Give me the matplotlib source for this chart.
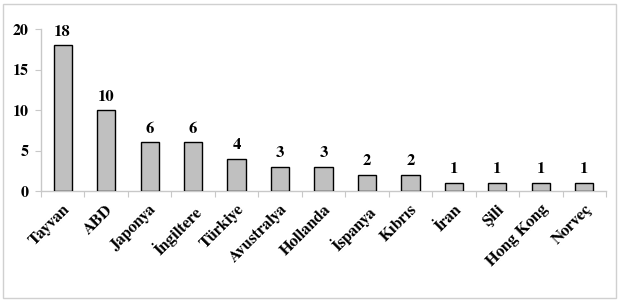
import matplotlib
matplotlib.use("Agg")
import matplotlib.pyplot as plt
from matplotlib.patches import Rectangle
import numpy as np

categories = ["Tayvan", "ABD", "Japonya", "İngiltere", "Türkiye", "Avustralya",
              "Hollanda", "İspanya", "Kıbrıs", "İran", "Şili", "Hong Kong", "Norveç"]
values = [18, 10, 6, 6, 4, 3, 3, 2, 2, 1, 1, 1, 1]
yticks = [0, 5, 10, 15, 20]

plt.rcParams['font.family'] = ['FreeSerif', 'Liberation Serif', 'DejaVu Serif']
plt.rcParams['font.weight'] = 'bold'

fs = 12

fig = plt.figure(figsize=(6.19, 3.02), dpi=100)
ax = fig.add_axes([0.0662, 0.3675, 0.9128, 0.5364])

x = np.arange(len(categories))
ax.bar(x, values, width=0.42, color='#c0c0c0', edgecolor='black', linewidth=1.0, zorder=3)
for xi, v in zip(x, values):
    ax.text(xi, v + 0.8, str(v), ha='center', va='bottom', fontsize=fs, fontweight='bold')

ax.set_xlim(-0.5, len(categories) - 0.5)
ax.set_ylim(0, 20)
ax.set_yticks(yticks)
ax.set_yticklabels([str(t) for t in yticks], fontsize=11.5, fontweight='bold')
ax.set_xticks(x)
ax.set_xticklabels(categories, rotation=45, ha='right', rotation_mode='anchor',
                   fontsize=fs, fontweight='bold')
ax.tick_params(axis='x', which='major', length=0, pad=8)
ax.set_xticks(np.arange(-0.5, len(categories), 1.0), minor=True)
ax.tick_params(axis='x', which='minor', length=4, color='#c8c8c8', width=0.8)
ax.tick_params(axis='y', length=4, color='#c8c8c8', width=0.8, pad=5)

for s in ['top', 'right']:
    ax.spines[s].set_visible(False)
for s in ['left', 'bottom']:
    ax.spines[s].set_color('#c8c8c8')
    ax.spines[s].set_linewidth(1.0)

fig.patches.append(Rectangle((0.005, 0.012), 0.99, 0.975, transform=fig.transFigure,
                             fill=False, edgecolor='#d0d0d0', linewidth=1.0))

fig.savefig("out.png", dpi=100)
